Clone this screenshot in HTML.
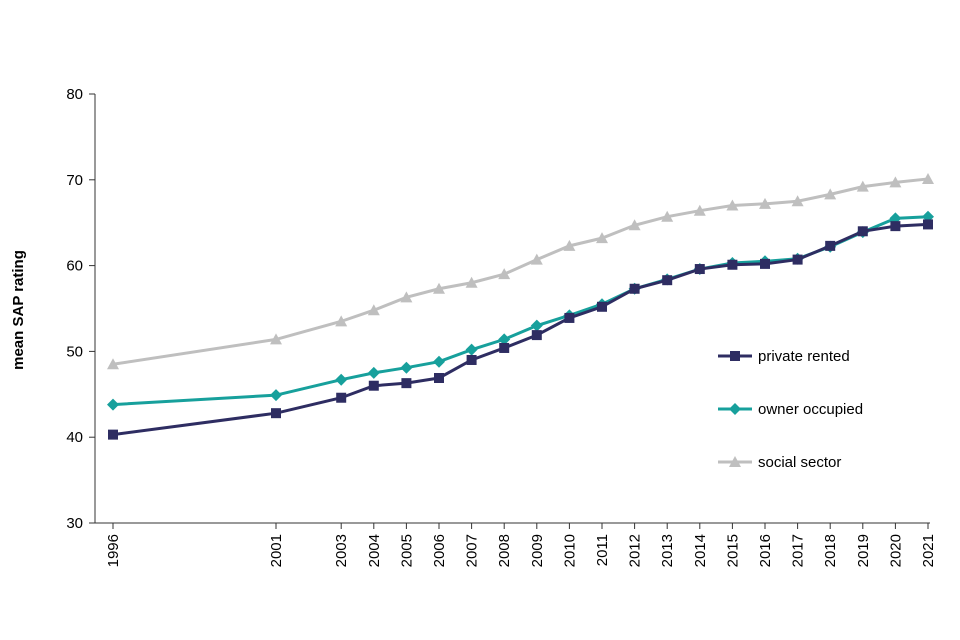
<!DOCTYPE html>
<html><head><meta charset="utf-8"><style>
body{margin:0;background:#fff;}
svg{display:block;font-family:"Liberation Sans",Arial,sans-serif;}
</style></head><body>
<svg id="chart" width="960" height="640" viewBox="0 0 960 640"></svg>
<script>
const years=[1996,2001,2003,2004,2005,2006,2007,2008,2009,2010,2011,2012,2013,2014,2015,2016,2017,2018,2019,2020,2021];
const privateRented=[40.3,42.8,44.6,46.0,46.3,46.9,49.0,50.4,51.9,53.9,55.2,57.3,58.3,59.6,60.1,60.2,60.7,62.3,64.0,64.6,64.8];
const ownerOccupied=[43.8,44.9,46.7,47.5,48.1,48.8,50.2,51.4,53.0,54.2,55.5,57.3,58.4,59.6,60.3,60.5,60.8,62.2,63.9,65.5,65.7];
const socialSector=[48.5,51.4,53.5,54.8,56.3,57.3,58.0,59.0,60.7,62.3,63.2,64.7,65.7,66.4,67.0,67.2,67.5,68.3,69.2,69.7,70.1];
const yTicks=[30,40,50,60,70,80];
const NS="http://www.w3.org/2000/svg";
const svg=document.getElementById('chart');
const x=v=>113+(v-1996)*(928-113)/25;
const y=v=>523-(v-30)*(523-94)/50;
function mk(t,a,p){const e=document.createElementNS(NS,t);for(const k in a)e.setAttribute(k,a[k]);(p||svg).appendChild(e);return e;}
// axes
let ax=mk('line',{x1:95,y1:94,x2:95,y2:523,stroke:'#333','stroke-width':1});


let bx=mk('line',{x1:95,y1:523,x2:930,y2:523,stroke:'#333','stroke-width':1});


yTicks.forEach(t=>{
  mk('line',{x1:89,y1:y(t),x2:95,y2:y(t),stroke:'#333'});
  const tx=mk('text',{x:83,y:y(t)+5,'text-anchor':'end','font-size':15,fill:'#000'});
  tx.textContent=t;
  
  
});
years.forEach(yr=>{
  mk('line',{x1:x(yr),y1:523,x2:x(yr),y2:529,stroke:'#333'});
  const tx=mk('text',{x:0,y:0,'text-anchor':'end','font-size':15,fill:'#000',transform:`translate(${x(yr)+5},534) rotate(-90)`});
  tx.textContent=yr;
  
  
});
const yt=mk('text',{x:0,y:0,'text-anchor':'middle','font-size':15,'font-weight':'bold',fill:'#000',transform:'translate(23,310) rotate(-90)'});
yt.textContent='mean SAP rating';


function marker(type,cx,cy,col,g){
  if(type==='sq')return mk('rect',{x:cx-5,y:cy-5,width:10,height:10,fill:col},g);
  if(type==='di')return mk('polygon',{points:`${cx},${cy-6} ${cx+6},${cy} ${cx},${cy+6} ${cx-6},${cy}`,fill:col},g);
  return mk('polygon',{points:`${cx},${cy-6} ${cx+6},${cy+5} ${cx-6},${cy+5}`,fill:col},g);
}
const series=[
  {name:'social-sector',label:'social sector',data:socialSector,col:'#bfbfbf',m:'tr',ly:462},
  {name:'owner-occupied',label:'owner occupied',data:ownerOccupied,col:'#17a09c',m:'di',ly:409},
  {name:'private-rented',label:'private rented',data:privateRented,col:'#2e2d62',m:'sq',ly:356}
];
series.forEach(s=>{
  const g=mk('g',{});
  
  
  mk('polyline',{points:years.map((yr,i)=>x(yr)+','+y(s.data[i])).join(' '),fill:'none',stroke:s.col,'stroke-width':3},g);
  years.forEach((yr,i)=>{const p=marker(s.m,x(yr),y(s.data[i]),s.col,g);
    
    });
  const lg=mk('g',{});
  
  
  mk('line',{x1:718,y1:s.ly,x2:752,y2:s.ly,stroke:s.col,'stroke-width':3},lg);
  marker(s.m,735,s.ly,s.col,lg);
  const t=mk('text',{x:758,y:s.ly+5,'font-size':15,fill:'#000'},lg);
  t.textContent=s.label;
});
</script>
</body></html>
